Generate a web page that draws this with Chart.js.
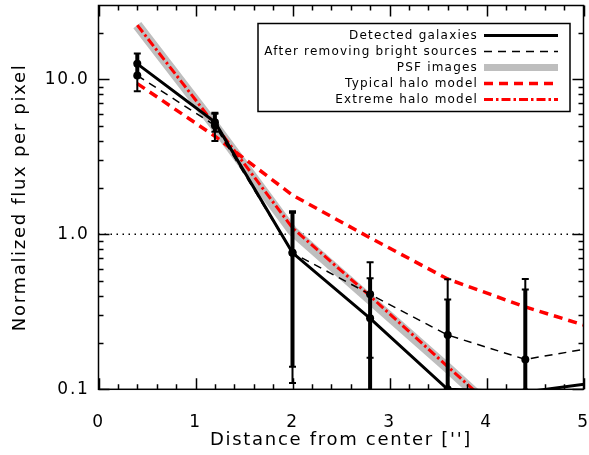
<!DOCTYPE html>
<html>
<head>
<meta charset="utf-8">
<title>Radial flux profile</title>
<script src="https://cdn.jsdelivr.net/npm/chart.js@4.4.0/dist/chart.umd.min.js"></script>
<style>
    html, body { margin: 0; padding: 0; background: #fff; }
    #profile { display: block; }
</style>
</head>
<body>
<canvas id="profile" width="589" height="455"></canvas>
<script>
// Radial bins (arcsec)
const radii = [0.4, 1.2, 2.0, 2.8, 3.6, 4.4, 5.2];

// Measured profiles with 1-sigma errors
const detected = [12.6, 5.3, 0.76, 0.287, 0.100, 0.096, 0.112];
const detectedErr = [2.1, 0.7, 0.62, 0.233, 0.28, 0.344, 0];
const removed = [10.6, 5.05, 0.76, 0.41, 0.224, 0.156, 0.19];
const removedErr = [2.2, 1.05, 0.65, 0.25, 0.29, 0.36, 0];

// Reference profiles
const psf = [22.4, 5.0, 1.05, 0.38, 0.137, 0.048, 0.02];
const typicalHalo = [9.4, 4.3, 1.79, 0.95, 0.515, 0.34, 0.238];
const extremeHalo = [22.4, 5.1, 1.1, 0.40, 0.14, 0.05, 0.02];

// Axis ticks
const xMajorTicks = [0, 1, 2, 3, 4, 5];
const yMajorTicks = [0.1, 1, 10];
const yMinorTicks = [0.2, 0.3, 0.4, 0.5, 0.6, 0.7, 0.8, 0.9,
                     2, 3, 4, 5, 6, 7, 8, 9, 20];

const FONT = 'DejaVu Sans';

function points(values) {
    return radii.map((x, i) => ({ x: x, y: values[i] }));
}

/**
 * Error bars for the two measured profiles
 */
const errorBars = {
    id: 'errorBars',
    afterDatasetsDraw(chart) {
        const { ctx, chartArea, scales } = chart;
        ctx.save();
        ctx.beginPath();
        ctx.rect(chartArea.left, chartArea.top, chartArea.width, chartArea.height);
        ctx.clip();
        ctx.strokeStyle = '#000';

        const draw = (vals, errs, width) => {
            vals.forEach((v, i) => {
                if (!errs[i]) return;
                const px = scales.x.getPixelForValue(radii[i]);
                const hi = scales.y.getPixelForValue(v + errs[i]);
                const loVal = v - errs[i];
                const lo = loVal > 0 ? scales.y.getPixelForValue(loVal) : chartArea.bottom + 6;
                ctx.lineWidth = width;
                ctx.beginPath();
                ctx.moveTo(px, hi);
                ctx.lineTo(px, lo);
                ctx.stroke();
                ctx.lineWidth = 2;
                ctx.beginPath();
                ctx.moveTo(px - 3.5, hi);
                ctx.lineTo(px + 3.5, hi);
                if (loVal > 0) {
                    ctx.moveTo(px - 3.5, lo);
                    ctx.lineTo(px + 3.5, lo);
                }
                ctx.stroke();
            });
        };
        draw(removed, removedErr, 2);
        draw(detected, detectedErr, 4);
        ctx.restore();
    }
};

/**
 * Box frame with inward ticks on all four sides
 */
const frameTicks = {
    id: 'frameTicks',
    afterDraw(chart) {
        const { ctx, chartArea: a, scales } = chart;
        ctx.save();
        ctx.strokeStyle = '#000';
        ctx.lineWidth = 1.5;
        ctx.setLineDash([]);
        ctx.strokeRect(a.left, a.top, a.width, a.height);

        ctx.beginPath();
        // x ticks, major and every 0.2 minor
        for (let t = xMajorTicks[0]; t <= xMajorTicks[xMajorTicks.length - 1] + 1e-6; t += 0.2) {
            const px = Math.round(scales.x.getPixelForValue(t)) + 0.5;
            const major = Math.abs(t - Math.round(t)) < 1e-6;
            const len = major ? 11 : 5;
            ctx.moveTo(px, a.bottom);
            ctx.lineTo(px, a.bottom - len);
            ctx.moveTo(px, a.top);
            ctx.lineTo(px, a.top + len);
        }
        // y ticks
        const yTick = (v, len) => {
            const py = Math.round(scales.y.getPixelForValue(v)) + 0.5;
            ctx.moveTo(a.left, py);
            ctx.lineTo(a.left + len, py);
            ctx.moveTo(a.right, py);
            ctx.lineTo(a.right - len, py);
        };
        yMajorTicks.forEach(v => yTick(v, 11));
        yMinorTicks.forEach(v => yTick(v, 5));
        ctx.stroke();
        ctx.restore();
    }
};

/**
 * Boxed legend, text right-aligned with line samples on the right
 */
const boxLegend = {
    id: 'boxLegend',
    afterDraw(chart) {
        const { ctx, chartArea: a } = chart;
        const items = chart.data.datasets.filter(d => d.inLegend);
        const box = { left: a.left + 159.5, top: a.top + 18, right: a.right - 13.5, bottom: a.top + 106 };

        ctx.save();
        ctx.fillStyle = '#fff';
        ctx.fillRect(box.left, box.top, box.right - box.left, box.bottom - box.top);
        ctx.strokeStyle = '#000';
        ctx.lineWidth = 1.5;
        ctx.setLineDash([]);
        ctx.strokeRect(box.left, box.top, box.right - box.left, box.bottom - box.top);

        ctx.font = '12px "' + FONT + '"';
        ctx.letterSpacing = '1.2px';
        ctx.textAlign = 'right';
        ctx.textBaseline = 'middle';
        items.forEach((d, i) => {
            const y = box.top + 12 + i * 16;
            ctx.fillStyle = '#000';
            ctx.fillText(d.label, box.right - 92, y);
            ctx.strokeStyle = d.borderColor;
            ctx.lineWidth = Math.min(d.borderWidth, 7);
            ctx.setLineDash(d.borderDash || []);
            ctx.beginPath();
            ctx.moveTo(box.right - 86, y);
            ctx.lineTo(box.right - 12, y);
            ctx.stroke();
        });
        ctx.restore();
    }
};

// wider glyph spacing, closer to the plotting font of the original
const textSpacing = {
    id: 'textSpacing',
    beforeLayout(chart) { chart.ctx.letterSpacing = '1.7px'; },
    beforeDraw(chart) { chart.ctx.letterSpacing = '1.7px'; }
};

const ctx = document.getElementById('profile');

new Chart(ctx, {
    type: 'line',
    data: {
        datasets: [
            {
                label: 'Detected galaxies',
                inLegend: true,
                data: points(detected),
                borderColor: '#000',
                backgroundColor: '#000',
                borderWidth: 3,
                pointRadius: 4,
                pointBorderWidth: 0,
                order: 1
            },
            {
                label: 'After removing bright sources',
                inLegend: true,
                data: points(removed),
                borderColor: '#000',
                backgroundColor: '#000',
                borderWidth: 1.5,
                borderDash: [8, 6],
                pointRadius: 4,
                pointBorderWidth: 0,
                order: 2
            },
            {
                label: 'PSF images',
                inLegend: true,
                data: points(psf),
                borderColor: '#bebebe',
                borderWidth: 10,
                pointRadius: 0,
                order: 5
            },
            {
                label: 'Typical halo model',
                inLegend: true,
                data: points(typicalHalo),
                borderColor: '#ff0000',
                borderWidth: 3.5,
                borderDash: [9, 6],
                pointRadius: 0,
                order: 3
            },
            {
                label: 'Extreme halo model',
                inLegend: true,
                data: points(extremeHalo),
                borderColor: '#ff0000',
                borderWidth: 3,
                borderDash: [9, 3, 2.5, 3],
                pointRadius: 0,
                order: 4
            },
            {
                label: 'unity',
                inLegend: false,
                data: [{ x: 0, y: 1 }, { x: 5, y: 1 }],
                borderColor: '#000',
                borderWidth: 1.5,
                borderDash: [1.5, 4.5],
                pointRadius: 0,
                order: 6
            }
        ]
    },
    options: {
        responsive: false,
        animation: false,
        devicePixelRatio: 1,
        layout: { padding: { top: 5.5, right: 5.5, left: 0, bottom: 0 } },
        plugins: {
            legend: { display: false },
            tooltip: { enabled: false }
        },
        scales: {
            x: {
                type: 'linear',
                min: 0,
                max: 5,
                grid: { display: false },
                border: { display: false },
                ticks: {
                    stepSize: 1,
                    padding: 15,
                    color: '#000',
                    font: { family: FONT, size: 17 },
                    maxRotation: 0,
                    callback: v => String(v)
                },
                title: {
                    display: true,
                    text: "Distance from center ['']",
                    color: '#000',
                    font: { family: FONT, size: 18 },
                    padding: { top: 0, bottom: 4 }
                },
                afterFit: scale => {
                    scale.height = 65.7;
                    scale.paddingLeft = 0;
                    scale.paddingRight = 0;
                }
            },
            y: {
                type: 'logarithmic',
                min: 0.1,
                max: 30,
                grid: { display: false },
                border: { display: false },
                afterBuildTicks: scale => {
                    scale.ticks = yMajorTicks.map(v => ({ value: v }));
                },
                ticks: {
                    padding: 1,
                    color: '#000',
                    font: { family: FONT, size: 17 },
                    callback: v => Number(v).toFixed(1)
                },
                title: {
                    display: true,
                    text: 'Normalized flux per pixel',
                    color: '#000',
                    font: { family: FONT, size: 18 },
                    padding: { top: 10, bottom: 0 }
                },
                afterFit: scale => {
                    scale.width = 98.5;
                    scale.paddingTop = 0;
                    scale.paddingBottom = 0;
                }
            }
        }
    },
    plugins: [textSpacing, errorBars, frameTicks, boxLegend]
});
</script>
</body>
</html>
